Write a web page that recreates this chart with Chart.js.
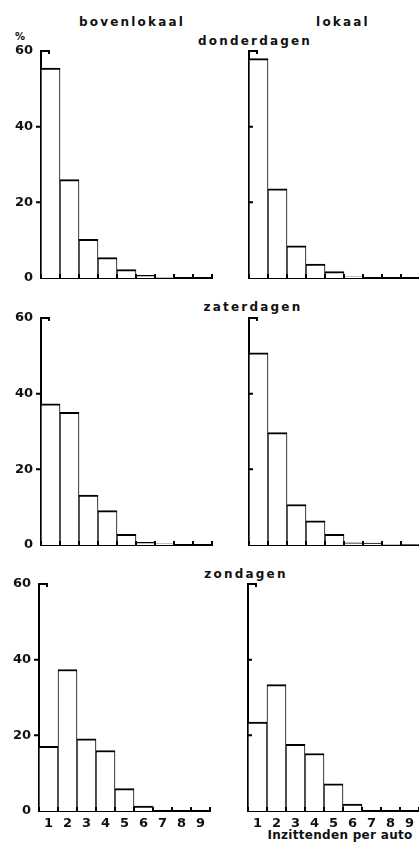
<!DOCTYPE html>
<html lang="nl">
<head>
  <meta charset="UTF-8" />
  <title>Inzittenden per auto</title>
  <style>
    html, body {
      margin: 0;
      padding: 0;
      background: #fff;
      width: 419px;
      height: 850px;
      overflow: hidden;
    }
    canvas {
      position: absolute;
    }
    .lbl {
      position: absolute;
      font-family: "DejaVu Sans", sans-serif;
      font-weight: bold;
      font-size: 12px;
      line-height: 14px;
      letter-spacing: 2.2px;
      color: #111;
      white-space: nowrap;
      transform: translate(-50%, -50%);
    }
  </style>
</head>
<body>
  <div class="lbl" style="left:20px;top:37px;font-size:10px;letter-spacing:0">%</div>
  <div class="lbl" style="left:132px;top:22px">bovenlokaal</div>
  <div class="lbl" style="left:343px;top:22px">lokaal</div>
  <div class="lbl" style="left:255px;top:41px">donderdagen</div>
  <div class="lbl" style="left:253px;top:307px">zaterdagen</div>
  <div class="lbl" style="left:246px;top:574px">zondagen</div>
  <div class="lbl" style="left:340px;top:835px;letter-spacing:0.3px">Inzittenden per auto</div>

  <canvas id="c0"></canvas>
  <canvas id="c1"></canvas>
  <canvas id="c2"></canvas>
  <canvas id="c3"></canvas>
  <canvas id="c4"></canvas>
  <canvas id="c5"></canvas>

  <script src="https://cdn.jsdelivr.net/npm/chart.js"></script>
  <script>
    // aantal inzittenden per auto (1 t/m 9), percentages
    const categories = ['1', '2', '3', '4', '5', '6', '7', '8', '9'];
    const yTicks = [0, 20, 40, 60];

    const donderBoven = [55.5, 26.0, 10.2, 5.4, 2.2, 0.7, 0.2, 0, 0];
    const donderLokaal = [58.0, 23.6, 8.5, 3.7, 1.7, 0.3, 0, 0, 0];
    const zaterBoven = [37.3, 35.1, 13.2, 9.1, 2.8, 0.7, 0.3, 0, 0];
    const zaterLokaal = [50.8, 29.7, 10.7, 6.4, 2.8, 0.6, 0.5, 0.2, 0.1];
    const zonBoven = [17.1, 37.4, 19.1, 16.0, 5.9, 1.3, 0, 0, 0];
    const zonLokaal = [23.5, 33.4, 17.6, 15.2, 7.2, 1.8, 0, 0, 0];

    const FONT = { family: '"DejaVu Sans", sans-serif', size: 13, weight: 'bold' };
    const PLOT_H = 227, PLOT_W = 171, PAD_TOP = 18;

    // kleine streepjes op de assen, zoals in het origineel
    const axisMarks = {
      id: 'axisMarks',
      afterDraw(chart, args, opts) {
        const { ctx, chartArea: a } = chart;
        const x = chart.scales.x, y = chart.scales.y;
        ctx.save();
        ctx.strokeStyle = '#000';
        ctx.lineWidth = 2;
        ctx.beginPath();
        const y60 = y.getPixelForValue(60);
        ctx.moveTo(a.left, y60);
        ctx.lineTo(a.left + 8, y60);
        ctx.lineTo(a.left + 8, y60 + 3);
        [20, 40].forEach(v => {
          const py = y.getPixelForValue(v);
          if (opts.inner) { ctx.moveTo(a.left, py); ctx.lineTo(a.left + 4, py); }
          else { ctx.moveTo(a.left - 5, py); ctx.lineTo(a.left, py); }
        });
        for (let i = 0; i <= categories.length; i++) {
          const px = x.getPixelForValue(i - 0.5);
          ctx.moveTo(px, a.bottom);
          ctx.lineTo(px, a.bottom - 4);
        }
        ctx.stroke();
        ctx.restore();
      }
    };

    // left: x van y-as, top: y van 60-lijn
    const panels = [
      { id: 'c0', data: donderBoven, left: 41, top: 51, labelsY: true, labelsX: false },
      { id: 'c1', data: donderLokaal, left: 249, top: 51, labelsY: false, labelsX: false },
      { id: 'c2', data: zaterBoven, left: 41, top: 318, labelsY: true, labelsX: false },
      { id: 'c3', data: zaterLokaal, left: 249, top: 318, labelsY: false, labelsX: false },
      { id: 'c4', data: zonBoven, left: 39, top: 584, labelsY: true, labelsX: true },
      { id: 'c5', data: zonLokaal, left: 248, top: 584, labelsY: false, labelsX: true }
    ];

    panels.forEach(p => {
      const yW = p.labelsY ? 41 : 12;
      const xH = p.labelsX ? 30 : 18;
      const canvas = document.getElementById(p.id);
      canvas.width = yW + PLOT_W + 4;
      canvas.height = PAD_TOP + PLOT_H + xH;
      canvas.style.left = (p.left - yW) + 'px';
      canvas.style.top = (p.top - PAD_TOP) + 'px';

      new Chart(canvas.getContext('2d'), {
        type: 'bar',
        data: {
          labels: categories,
          datasets: [{
            data: p.data,
            backgroundColor: '#fff',
            borderColor: '#000',
            borderWidth: { top: 2, left: 1, right: 1, bottom: 0 },
            borderSkipped: false,
            categoryPercentage: 1,
            barPercentage: 1
          }]
        },
        options: {
          responsive: false,
          animation: false,
          devicePixelRatio: 1,
          layout: { padding: { top: PAD_TOP, right: 4, left: 0, bottom: 0 } },
          plugins: {
            legend: { display: false },
            tooltip: { enabled: false },
            axisMarks: { inner: !p.labelsY }
          },
          scales: {
            x: {
              grid: { display: false, drawTicks: false },
              border: { display: true, color: '#000', width: 2 },
              ticks: { display: p.labelsX, color: '#111', font: FONT, padding: 5, maxRotation: 0 },
              afterFit: s => { s.height = xH; }
            },
            y: {
              min: 0,
              max: 60,
              grid: { display: false, drawTicks: false },
              border: { display: true, color: '#000', width: 2 },
              afterBuildTicks: s => { s.ticks = yTicks.map(v => ({ value: v })); },
              ticks: { display: p.labelsY, color: '#111', font: FONT, padding: 8 },
              afterFit: s => { s.width = yW; }
            }
          }
        },
        plugins: [axisMarks]
      });
    });
  </script>
</body>
</html>
